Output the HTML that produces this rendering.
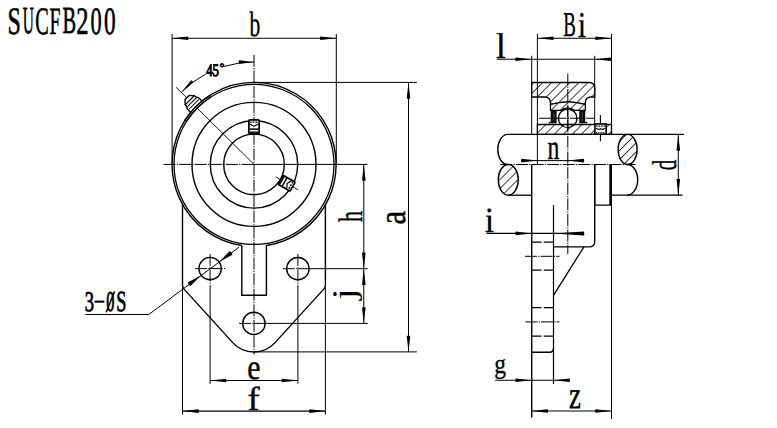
<!DOCTYPE html>
<html><head><meta charset="utf-8"><style>
html,body{margin:0;padding:0;background:#fff;}
svg{display:block;}
</style></head><body>
<svg width="777" height="428" viewBox="0 0 777 428" stroke="#000" fill="none" stroke-linecap="butt">
<defs><pattern id="hatch" patternUnits="userSpaceOnUse" width="6.4" height="6.4" patternTransform="rotate(45)">
<rect width="6.4" height="6.4" fill="#fff" stroke="none"/><line x1="0" y1="0" x2="0" y2="6.4" stroke="#000" stroke-width="1.5"/></pattern></defs>
<rect x="0" y="0" width="777" height="428" fill="#fff" stroke="none"/>
<text text-rendering="geometricPrecision" x="0" y="0" font-family="Liberation Serif" font-weight="normal" font-size="100" transform="matrix(0.24045,0,0,0.38841,7.605,33.662)" fill="#000" stroke="#000" stroke-width="1.8">S</text>
<text text-rendering="geometricPrecision" x="0" y="0" font-family="Liberation Serif" font-weight="normal" font-size="100" transform="matrix(0.15330,0,0,0.38360,22.716,33.471)" fill="#000" stroke="#000" stroke-width="1.8">U</text>
<text text-rendering="geometricPrecision" x="0" y="0" font-family="Liberation Serif" font-weight="normal" font-size="100" transform="matrix(0.20204,0,0,0.38841,35.353,33.662)" fill="#000" stroke="#000" stroke-width="1.8">C</text>
<text text-rendering="geometricPrecision" x="0" y="0" font-family="Liberation Serif" font-weight="normal" font-size="100" transform="matrix(0.19646,0,0,0.38484,49.507,33.554)" fill="#000" stroke="#000" stroke-width="1.8">F</text>
<text text-rendering="geometricPrecision" x="0" y="0" font-family="Liberation Serif" font-weight="normal" font-size="100" transform="matrix(0.20428,0,0,0.38314,62.391,33.440)" fill="#000" stroke="#000" stroke-width="1.8">B</text>
<text text-rendering="geometricPrecision" x="0" y="0" font-family="Liberation Serif" font-weight="normal" font-size="100" transform="matrix(0.24582,0,0,0.38676,76.340,33.552)" fill="#000" stroke="#000" stroke-width="1.8">2</text>
<text text-rendering="geometricPrecision" x="0" y="0" font-family="Liberation Serif" font-weight="normal" font-size="100" transform="matrix(0.22398,0,0,0.38672,90.550,33.665)" fill="#000" stroke="#000" stroke-width="1.8">0</text>
<text text-rendering="geometricPrecision" x="0" y="0" font-family="Liberation Serif" font-weight="normal" font-size="100" transform="matrix(0.23303,0,0,0.38672,104.124,33.665)" fill="#000" stroke="#000" stroke-width="1.8">0</text>
<line x1="172.1" y1="34" x2="172.1" y2="164.4" stroke-width="1.0" />
<line x1="336.3" y1="34" x2="336.3" y2="164.4" stroke-width="1.0" />
<line x1="172.1" y1="38.2" x2="336.3" y2="38.2" stroke-width="1.1" />
<path d="M172.1 38.2L188.1 40Q188.9 38.2 188.1 36.4Z" fill="#000" stroke="none"/>
<path d="M336.3 38.2L320.3 36.4Q319.5 38.2 320.3 40Z" fill="#000" stroke="none"/>
<text text-rendering="geometricPrecision" x="0" y="0" font-family="Liberation Serif" font-weight="normal" font-size="100" transform="matrix(0.21519,0,0,0.35335,249.529,36.335)" fill="#000" stroke="#000" stroke-width="1.2">b</text>
<line x1="254" y1="54.8" x2="254" y2="354.5" stroke-width="1.0" stroke-dasharray="12 1.2 1.2 1.2"/>
<line x1="163.5" y1="164.4" x2="254" y2="164.4" stroke-width="1.0" stroke-dasharray="12 1.2 1.2 1.2"/>
<line x1="254" y1="164.4" x2="367.4" y2="164.4" stroke-width="1.0" />
<line x1="254" y1="82.4" x2="416.9" y2="82.4" stroke-width="1.0" />
<line x1="254" y1="351.9" x2="416.9" y2="351.9" stroke-width="1.0" />
<line x1="408.5" y1="82.4" x2="408.5" y2="351.9" stroke-width="1.0" />
<path d="M408.5 82.4L406.7 98.4Q408.5 99.2 410.3 98.4Z" fill="#000" stroke="none"/>
<path d="M408.5 351.9L410.3 335.9Q408.5 335.1 406.7 335.9Z" fill="#000" stroke="none"/>
<text text-rendering="geometricPrecision" x="0" y="0" font-family="Liberation Serif" font-weight="normal" font-size="100" transform="matrix(0,-0.30958,0.38289,0,405.387,224.498)" fill="#000" stroke="#000" stroke-width="1.2">a</text>
<line x1="363.8" y1="164.4" x2="363.8" y2="323.5" stroke-width="1.0" />
<path d="M363.8 164.4L362 180.4Q363.8 181.2 365.6 180.4Z" fill="#000" stroke="none"/>
<path d="M363.8 268.7L365.6 252.7Q363.8 251.9 362 252.7Z" fill="#000" stroke="none"/>
<path d="M363.8 268.7L362 284.7Q363.8 285.5 365.6 284.7Z" fill="#000" stroke="none"/>
<path d="M363.8 323.5L365.6 307.5Q363.8 306.7 362 307.5Z" fill="#000" stroke="none"/>
<line x1="297.9" y1="268.7" x2="367.8" y2="268.7" stroke-width="1.0" />
<line x1="254" y1="323.4" x2="367.8" y2="323.4" stroke-width="1.0" />
<text text-rendering="geometricPrecision" x="0" y="0" font-family="Liberation Serif" font-weight="normal" font-size="100" transform="matrix(0,-0.22086,0.33994,0,361.796,222.088)" fill="#000" stroke="#000" stroke-width="1.2">h</text>
<text text-rendering="geometricPrecision" x="0" y="0" font-family="Liberation Serif" font-weight="normal" font-size="100" transform="matrix(0,-0.39819,0.32914,0,355.189,299.445)" fill="#000" stroke="#000" stroke-width="0">j</text>
<circle cx="254" cy="164.4" r="80" stroke-width="1.3" fill="none" />
<path d="M241.8 245.49A82.0 82.0 0 1 1 266.4 245.49" stroke-width="1.4" fill="none"/>
<circle cx="254" cy="164.4" r="62" stroke-width="1.4" fill="none" />
<circle cx="254" cy="164.4" r="43.7" stroke-width="1.4" fill="none" />
<circle cx="254" cy="164.4" r="30.3" stroke-width="1.4" fill="none" />
<path d="M241.8 245.49L241.8 295.3L266.4 295.3L266.4 245.49" stroke-width="1.4" fill="none"/>
<path d="M182.5 204.55L182.5 285.11Q182.5 287.43 184.06 289.14L232.75 342.65A28.6 28.6 0 0 0 275.05 342.65L323.74 289.14Q325.4 287.43 325.4 285.11L325.4 204.55" stroke-width="1.4" fill="none"/>
<circle cx="210.1" cy="268.6" r="11.2" stroke-width="1.4" fill="none" />
<circle cx="297.9" cy="268.7" r="11.2" stroke-width="1.4" fill="none" />
<circle cx="253.9" cy="323.4" r="11.2" stroke-width="1.4" fill="none" />
<line x1="195.2" y1="268.6" x2="225.2" y2="268.6" stroke-width="1.0" stroke-dasharray="12 1.2 1.2 1.2"/>
<line x1="210.1" y1="253.9" x2="210.1" y2="285" stroke-width="1.0" stroke-dasharray="12 1.2 1.2 1.2"/>
<line x1="282.9" y1="268.7" x2="297.9" y2="268.7" stroke-width="1.0" stroke-dasharray="12 1.2 1.2 1.2"/>
<line x1="297.9" y1="253.9" x2="297.9" y2="285" stroke-width="1.0" stroke-dasharray="12 1.2 1.2 1.2"/>
<line x1="239.1" y1="323.4" x2="254" y2="323.4" stroke-width="1.0" stroke-dasharray="12 1.2 1.2 1.2"/>
<line x1="210.1" y1="285" x2="210.1" y2="383.8" stroke-width="1.0" />
<line x1="297.9" y1="285" x2="297.9" y2="383.8" stroke-width="1.0" />
<line x1="182.5" y1="287.43" x2="182.5" y2="414.4" stroke-width="1.0" />
<line x1="325.4" y1="287.43" x2="325.4" y2="414.4" stroke-width="1.0" />
<line x1="210.1" y1="380.5" x2="297.9" y2="380.5" stroke-width="1.1" />
<path d="M210.1 380.5L226.1 382.3Q226.9 380.5 226.1 378.7Z" fill="#000" stroke="none"/>
<path d="M297.9 380.5L281.9 378.7Q281.1 380.5 281.9 382.3Z" fill="#000" stroke="none"/>
<line x1="182.5" y1="411.1" x2="325.4" y2="411.1" stroke-width="1.1" />
<path d="M182.5 411.1L198.5 412.9Q199.3 411.1 198.5 409.3Z" fill="#000" stroke="none"/>
<path d="M325.4 411.1L309.4 409.3Q308.6 411.1 309.4 412.9Z" fill="#000" stroke="none"/>
<text text-rendering="geometricPrecision" x="0" y="0" font-family="Liberation Serif" font-weight="normal" font-size="100" transform="matrix(0.29843,0,0,0.35497,247.315,378.832)" fill="#000" stroke="#000" stroke-width="1.2">e</text>
<text text-rendering="geometricPrecision" x="0" y="0" font-family="Liberation Serif" font-weight="normal" font-size="100" transform="matrix(0.36306,0,0,0.33520,247.392,409.799)" fill="#000" stroke="#000" stroke-width="1.2">f</text>
<line x1="85.4" y1="314.5" x2="148.8" y2="314.5" stroke-width="1.1" />
<line x1="148.8" y1="314.5" x2="239" y2="247.2" stroke-width="1.0" />
<path d="M219.08 261.9L232.47 254.78Q231.74 252.45 229.72 251.09Z" fill="#000" stroke="none"/>
<path d="M201.12 275.3L187.73 282.42Q188.46 284.75 190.48 286.11Z" fill="#000" stroke="none"/>
<text text-rendering="geometricPrecision" x="0" y="0" font-family="Liberation Serif" font-weight="normal" font-size="100" transform="matrix(0.18510,0,0,0.28490,84.789,310.888)" fill="#000" stroke="#000" stroke-width="3">3</text>
<rect x="94.7" y="300.6" width="9.7" height="2.1" fill="#000" stroke="none"/>
<text text-rendering="geometricPrecision" x="0" y="0" font-family="Liberation Serif" font-weight="normal" font-size="100" transform="matrix(0.16300,0,0,0.28652,106.325,311.084)" fill="#000" stroke="#000" stroke-width="3">0</text>
<line x1="106.2" y1="312.3" x2="114.6" y2="291.4" stroke-width="1.5" />
<text text-rendering="geometricPrecision" x="0" y="0" font-family="Liberation Serif" font-weight="normal" font-size="100" transform="matrix(0.18162,0,0,0.29060,116.156,311.074)" fill="#000" stroke="#000" stroke-width="3">S</text>
<line x1="176" y1="87.2" x2="254" y2="164.4" stroke-width="0.9" />
<path d="M181.59 91.99A102.4 102.4 0 0 1 205.77 74.07" stroke-width="1.0" fill="none"/>
<path d="M224.23 66.42A102.4 102.4 0 0 1 254 62" stroke-width="1.0" fill="none"/>
<path d="M181.59 91.99L193.26 82.45Q192.76 80.82 191.14 80.33Z" fill="#000" stroke="none"/>
<path d="M254 62L239 60.2Q238.2 62 239 63.8Z" fill="#000" stroke="none"/>
<text text-rendering="geometricPrecision" x="0" y="0" font-family="Liberation Serif" font-weight="normal" font-size="100" transform="matrix(0.12787,0,0,0.17582,206.228,76.397)" fill="#000" stroke="#000" stroke-width="6">45</text>
<text text-rendering="geometricPrecision" x="0" y="0" font-family="Liberation Serif" font-weight="normal" font-size="100" transform="matrix(0.11488,0,0,0.11227,219.708,71.115)" fill="#000" stroke="#000" stroke-width="8">°</text>
<line x1="275.65" y1="176.9" x2="298.17" y2="189.9" stroke-width="0.9" />
<g transform="translate(254.0,164.4) rotate(0.00)">
<rect x="-5.15" y="-44.6" width="10.3" height="13.8" rx="0.8" fill="#fff" stroke-width="1.7"/>
<line x1="-4.5" y1="-42.3" x2="4.5" y2="-42.3" stroke-width="1.4" stroke-dasharray="2 1"/>
<path d="M-4.3 -40.4L0 -38.2L4.3 -40.4" fill="none" stroke-width="1.2"/>
<line x1="-4.5" y1="-35.3" x2="4.5" y2="-35.3" stroke-width="1.5"/>
<line x1="-4.5" y1="-32.2" x2="4.5" y2="-32.2" stroke-width="1.4"/>
</g>
<g transform="translate(254.0,164.4) rotate(120.00)">
<rect x="-5.15" y="-44.6" width="10.3" height="13.8" rx="0.8" fill="#fff" stroke-width="1.7"/>
<line x1="-4.5" y1="-42.3" x2="4.5" y2="-42.3" stroke-width="1.4" stroke-dasharray="2 1"/>
<path d="M-4.3 -40.4L0 -38.2L4.3 -40.4" fill="none" stroke-width="1.2"/>
<line x1="-4.5" y1="-35.3" x2="4.5" y2="-35.3" stroke-width="1.5"/>
<line x1="-4.5" y1="-32.2" x2="4.5" y2="-32.2" stroke-width="1.4"/>
</g>
<g transform="translate(254.0,164.4) rotate(315)">
<path d="M-8 -81L-8 -86.5L-6.5 -89L-6.5 -90.8L-3 -94.6L3 -94.6L6.5 -90.8L6.5 -89L8 -86.5L8 -81" fill="#fff" stroke-width="1.4"/>
<line x1="-7" y1="-90.8" x2="7" y2="-90.8" stroke-width="1.2"/>
<line x1="-7" y1="-87.9" x2="7" y2="-87.9" stroke-width="1.0"/>
<line x1="-7" y1="-85.0" x2="7" y2="-85.0" stroke-width="1.0"/>
</g>
<path d="M184.46 120.95A82.0 82.0 0 0 1 210.55 94.86" stroke-width="1.4" fill="none"/>
<path d="M186.16 122.01A80.0 80.0 0 0 1 211.61 96.56" stroke-width="1.3" fill="none"/>
<line x1="537.4" y1="33.7" x2="537.4" y2="164.4" stroke-width="1.0" />
<line x1="611.5" y1="33.7" x2="611.5" y2="134.4" stroke-width="1.0" />
<line x1="537.4" y1="38.3" x2="611.5" y2="38.3" stroke-width="1.1" />
<path d="M537.4 38.3L553.4 40.1Q554.2 38.3 553.4 36.5Z" fill="#000" stroke="none"/>
<path d="M611.5 38.3L595.5 36.5Q594.7 38.3 595.5 40.1Z" fill="#000" stroke="none"/>
<text text-rendering="geometricPrecision" x="0" y="0" font-family="Liberation Serif" font-weight="normal" font-size="100" transform="matrix(0.18802,0,0,0.34925,563.268,36.486)" fill="#000" stroke="#000" stroke-width="1.2">B</text>
<text text-rendering="geometricPrecision" x="0" y="0" font-family="Liberation Serif" font-weight="normal" font-size="100" transform="matrix(0.28400,0,0,0.36202,578.074,36.583)" fill="#000" stroke="#000" stroke-width="1.2">i</text>
<line x1="496.8" y1="59.3" x2="611.5" y2="59.3" stroke-width="1.1" />
<path d="M531.6 59.3L515.6 57.5Q514.8 59.3 515.6 61.1Z" fill="#000" stroke="none"/>
<path d="M594.7 59.3L610.7 61.1Q611.5 59.3 610.7 57.5Z" fill="#000" stroke="none"/>
<text text-rendering="geometricPrecision" x="0" y="0" font-family="Liberation Serif" font-weight="normal" font-size="100" transform="matrix(0.35200,0,0,0.35836,495.907,57.685)" fill="#000" stroke="#000" stroke-width="1.2">l</text>
<line x1="531.7" y1="55.8" x2="531.7" y2="134.4" stroke-width="1.0" />
<line x1="594.7" y1="55.8" x2="594.7" y2="124.5" stroke-width="1.0" />
<path d="M531.7 82.5L589.7 82.5A5 5 0 0 1 594.7 87.5L594.7 97L590.8 97A5.5 5.5 0 0 0 585.3 102.5L585.3 104.5A60 60 0 0 0 550.5 104.5L550.5 102.5A5.5 5.5 0 0 0 545 97L531.7 97Z" stroke-width="1.4" fill="url(#hatch)"/>
<line x1="537.4" y1="82.5" x2="537.4" y2="97" stroke-width="1.0" />
<path d="M550.5 104.5A60 60 0 0 1 585.3 104.5L585.3 110.3L574.5 110.3A10.5 10.5 0 0 0 560.9 110.3L550.5 110.3Z" stroke-width="1.3" fill="url(#hatch)"/>
<rect x="550.7" y="110.3" width="5.9" height="13" fill="#000" stroke="none"/>
<rect x="579.3" y="110.3" width="5.9" height="13" fill="#000" stroke="none"/>
<rect x="548.8" y="121.8" width="2" height="1.5" fill="#000" stroke="none"/>
<rect x="585.2" y="121.8" width="2" height="1.5" fill="#000" stroke="none"/>
<line x1="553.9" y1="112.5" x2="553.9" y2="121" stroke-width="0.6" stroke="#999"/>
<line x1="582.3" y1="112.5" x2="582.3" y2="121" stroke-width="0.6" stroke="#999"/>
<path d="M537.4 124.5L611.5 124.5L611.5 134.4L537.4 134.4Z" stroke-width="1.3" fill="url(#hatch)"/>
<circle cx="567.7" cy="118.3" r="9.3" stroke-width="1.4" fill="none" fill="#fff"/>
<line x1="539" y1="118.3" x2="594" y2="118.3" stroke-width="1.1" stroke-dasharray="12 1.2 1.2 1.2"/>
<line x1="567.8" y1="106" x2="567.8" y2="130" stroke-width="1.1" />
<rect x="594.9" y="124" width="11.2" height="10.2" fill="#fff" stroke-width="1.6"/>
<line x1="596" y1="126.1" x2="605" y2="126.1" stroke-width="1.3" stroke-dasharray="1.6 0.9"/>
<path d="M596 128.2Q598 130.3 600.3 128.8Q602.5 130.3 604.8 128.2" stroke-width="1.2" fill="none"/>
<line x1="596" y1="132.4" x2="605" y2="132.4" stroke-width="1.0" stroke-dasharray="1.2 1"/>
<line x1="600.4" y1="115" x2="600.4" y2="123.2" stroke-width="1.1" />
<line x1="600.4" y1="134.4" x2="600.4" y2="141.3" stroke-width="1.1" />
<line x1="567.8" y1="73.5" x2="567.8" y2="254" stroke-width="1.0" stroke-dasharray="12 1.2 1.2 1.2"/>
<line x1="507.8" y1="134.4" x2="683.9" y2="134.4" stroke-width="1.3" />
<line x1="508.3" y1="195.2" x2="531.7" y2="195.2" stroke-width="1.3" />
<line x1="611.5" y1="195.2" x2="682.6" y2="195.2" stroke-width="1.3" />
<line x1="500.3" y1="164.5" x2="635.6" y2="164.5" stroke-width="1.2" stroke-dasharray="12 1.2 1.2 1.2"/>
<path d="M507.8 134.4A10 15.05 0 0 0 507.8 164.5" stroke-width="1.4" fill="none"/>
<ellipse cx="508.3" cy="179.85" rx="10" ry="15.35" fill="url(#hatch)" stroke-width="1.4"/>
<ellipse cx="627.6" cy="149.45" rx="9.5" ry="15.05" fill="url(#hatch)" stroke-width="1.4"/>
<path d="M627.2 164.5A10.5 15.35 0 0 1 627.2 195.2" stroke-width="1.4" fill="none"/>
<line x1="678.3" y1="134.4" x2="678.3" y2="195.2" stroke-width="1.0" />
<path d="M678.3 134.4L676.5 150.4Q678.3 151.2 680.1 150.4Z" fill="#000" stroke="none"/>
<path d="M678.3 195.2L680.1 179.2Q678.3 178.4 676.5 179.2Z" fill="#000" stroke="none"/>
<text text-rendering="geometricPrecision" x="0" y="0" font-family="Liberation Serif" font-weight="normal" font-size="100" transform="matrix(0,-0.21121,0.34358,0,676.450,170.334)" fill="#000" stroke="#000" stroke-width="1.2">d</text>
<line x1="521.3" y1="160.6" x2="584" y2="160.6" stroke-width="1.0" />
<path d="M537.4 160.6L521.4 158.8Q520.6 160.6 521.4 162.4Z" fill="#000" stroke="none"/>
<path d="M567.8 160.6L583.8 162.4Q584.6 160.6 583.8 158.8Z" fill="#000" stroke="none"/>
<text text-rendering="geometricPrecision" x="0" y="0" font-family="Liberation Serif" font-weight="normal" font-size="100" transform="matrix(0.23629,0,0,0.34990,547.398,159.390)" fill="#000" stroke="#000" stroke-width="1.2">n</text>
<line x1="531.7" y1="164.4" x2="531.7" y2="417.5" stroke-width="1.4" />
<path d="M594.7 164.4L594.7 241.9A5 5 0 0 1 589.7 246.9L553.5 246.9" stroke-width="1.4" fill="none"/>
<path d="M594.7 164.5L594.7 205.1L611.5 205.1" stroke-width="1.4" fill="none"/>
<line x1="610.3" y1="164.5" x2="610.3" y2="205.1" stroke-width="2.0" />
<line x1="611.5" y1="164.5" x2="611.5" y2="419" stroke-width="1.0" />
<line x1="553.5" y1="205.1" x2="553.5" y2="384.1" stroke-width="1.2" />
<line x1="583.9" y1="246.9" x2="553.5" y2="295.3" stroke-width="1.3" />
<path d="M531.7 352.2L549.5 352.2Q553.5 352.2 553.5 348.2" stroke-width="1.4" fill="none"/>
<line x1="531.7" y1="242.1" x2="553.5" y2="242.1" stroke-width="1.3" stroke-dasharray="9.8 2.2"/>
<line x1="531.7" y1="270.1" x2="553.5" y2="270.1" stroke-width="1.3" stroke-dasharray="9.8 2.2"/>
<line x1="525" y1="256.3" x2="559.6" y2="256.3" stroke-width="1.0" stroke-dasharray="12 1.2 1.2 1.2"/>
<line x1="531.7" y1="307.6" x2="553.5" y2="307.6" stroke-width="1.3" stroke-dasharray="9.8 2.2"/>
<line x1="531.7" y1="336.1" x2="553.5" y2="336.1" stroke-width="1.3" stroke-dasharray="9.8 2.2"/>
<line x1="525.5" y1="321.9" x2="559.5" y2="321.9" stroke-width="1.0" stroke-dasharray="12 1.2 1.2 1.2"/>
<line x1="486.4" y1="233.4" x2="584" y2="233.4" stroke-width="1.1" />
<path d="M531.7 233.4L515.7 231.6Q514.9 233.4 515.7 235.2Z" fill="#000" stroke="none"/>
<path d="M553.5 233.4L583.9 235.4Q584.7 233.4 583.9 231.4Z" fill="#000" stroke="none"/>
<text text-rendering="geometricPrecision" x="0" y="0" font-family="Liberation Serif" font-weight="normal" font-size="100" transform="matrix(0.32000,0,0,0.35608,485.120,231.686)" fill="#000" stroke="#000" stroke-width="1.2">i</text>
<line x1="495.2" y1="380.2" x2="569.6" y2="380.2" stroke-width="1.1" />
<path d="M531.7 380.2L515.7 378.4Q514.9 380.2 515.7 382Z" fill="#000" stroke="none"/>
<path d="M553.5 380.2L569.5 382Q570.3 380.2 569.5 378.4Z" fill="#000" stroke="none"/>
<text text-rendering="geometricPrecision" x="0" y="0" font-family="Liberation Serif" font-weight="normal" font-size="100" transform="matrix(0.23556,0,0,0.27530,494.328,373.488)" fill="#000" stroke="#000" stroke-width="1.2">g</text>
<line x1="531.7" y1="411" x2="612" y2="411" stroke-width="1.1" />
<path d="M531.7 411L547.7 412.8Q548.5 411 547.7 409.2Z" fill="#000" stroke="none"/>
<path d="M611.5 411L595.5 409.2Q594.7 411 595.5 412.8Z" fill="#000" stroke="none"/>
<text text-rendering="geometricPrecision" x="0" y="0" font-family="Liberation Serif" font-weight="normal" font-size="100" transform="matrix(0.19703,0,0,0.26861,568.950,408.197)" fill="#000" stroke="#000" stroke-width="3">Z</text>
</svg></body></html>
